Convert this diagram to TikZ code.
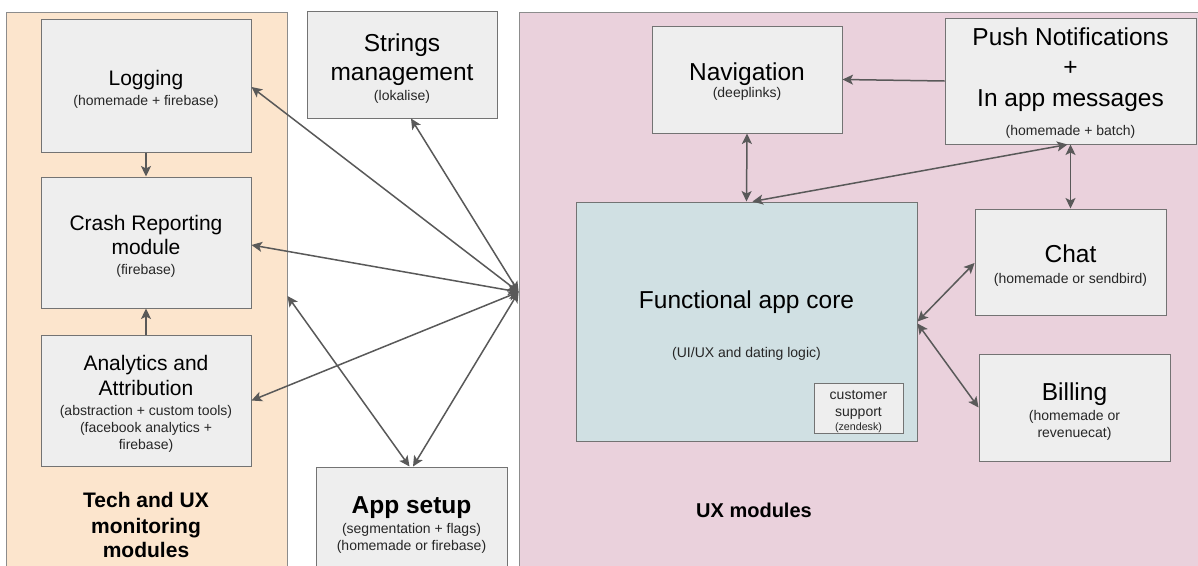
\documentclass[tikz,border=0pt]{standalone}
\usepackage{fontspec}
\setmainfont{Liberation Sans}
\usetikzlibrary{arrows.meta}
\definecolor{orangeFill}{HTML}{FCE5CD}
\definecolor{pinkFill}{HTML}{EAD1DC}
\definecolor{boxFill}{HTML}{EEEEEE}
\definecolor{coreFill}{HTML}{D0E0E3}
\definecolor{boxLine}{HTML}{737373}
\definecolor{panelLine}{HTML}{8C8C8C}
\definecolor{arrowC}{HTML}{595959}
\definecolor{subC}{HTML}{262626}
\begin{document}
\begin{tikzpicture}[x=1pt,y=-1pt,
  panel/.style={draw=panelLine, line width=0.9pt, inner sep=0pt, anchor=north west},
  box/.style={draw=boxLine, line width=1pt, fill=boxFill, inner sep=0pt},
  mainA/.style={font=\fontsize{21}{25}\selectfont, inner sep=0pt, anchor=base},
  mainB/.style={font=\fontsize{24.5}{29}\selectfont, inner sep=0pt, anchor=base},
  subT/.style={font=\fontsize{14}{17}\selectfont, text=subC, inner sep=0pt, anchor=base},
  tinyT/.style={font=\fontsize{10.7}{13}\selectfont, text=subC, inner sep=0pt, anchor=base},
  boldA/.style={font=\fontsize{21}{25}\selectfont\bfseries, inner sep=0pt, anchor=base},
  boldB/.style={font=\fontsize{24.5}{29}\selectfont\bfseries, inner sep=0pt, anchor=base},
  tip/.tip={Stealth[length=10.5pt,width=10pt,inset=2.5pt]},
  both/.style={draw=arrowC, line width=1.5pt, tip-tip},
  one/.style={draw=arrowC, line width=1.5pt, -tip}]

\fill[white] (0,0) rectangle (1198,565);
\useasboundingbox (0,0) rectangle (1198,565);

% panels
\node[panel, fill=orangeFill, minimum width=281pt, minimum height=575pt] (orP) at (5.5,11.5) {};
\node[panel, fill=pinkFill, minimum width=690pt, minimum height=575pt] (pkP) at (518.5,11.5) {};
\coordinate (hub) at (518.6,292);
\coordinate (orHub) at (287.5,296);

% boxes
\node[box, minimum width=210pt, minimum height=133pt] (logB) at (146,85.5) {};
\node[box, minimum width=210pt, minimum height=131pt] (crashB) at (146,242.5) {};
\node[box, minimum width=210pt, minimum height=131pt] (anaB) at (146,400.5) {};
\node[box, minimum width=190pt, minimum height=107pt] (strB) at (402,64.5) {};
\node[box, minimum width=191pt, minimum height=110pt] (appB) at (411.5,522) {};
\node[box, minimum width=190pt, minimum height=107pt] (navB) at (747,79.5) {};
\node[box, minimum width=251pt, minimum height=126pt] (pushB) at (1070.5,81) {};
\node[box, fill=coreFill, minimum width=341pt, minimum height=239pt] (coreB) at (746.5,321.5) {};
\node[box, minimum width=89pt, minimum height=50pt] (csB) at (858.5,408) {};
\node[box, minimum width=191pt, minimum height=106pt] (chatB) at (1070.5,262) {};
\node[box, minimum width=191pt, minimum height=107pt] (billB) at (1074.5,407.5) {};

% texts left column
\node[mainA] (tLog) at (146,85.5) {Logging};
\node[subT] (tLogS) at (146,105) {(homemade + firebase)};
\node[mainA] (tCr1) at (146,230.5) {Crash Reporting};
\node[mainA] (tCr2) at (146,254.5) {module};
\node[subT] (tCrS) at (146,274) {(firebase)};
\node[mainA] (tAn1) at (146,370.5) {Analytics and};
\node[mainA] (tAn2) at (146,395.5) {Attribution};
\node[subT] (tAnS1) at (146,415) {(abstraction + custom tools)};
\node[subT] (tAnS2) at (146,432) {(facebook analytics +};
\node[subT] (tAnS3) at (146,449) {firebase)};
\node[boldA] (tTe1) at (146,507.5) {Tech and UX};
\node[boldA] (tTe2) at (146,533.5) {monitoring};
\node[boldA] (tTe3) at (146,557.5) {modules};

% middle column
\node[mainB] (tSt1) at (402,51.8) {Strings};
\node[mainB] (tSt2) at (402,80.8) {management};
\node[subT] (tStS) at (402,100) {(lokalise)};
\node[boldB] (tApp) at (411.5,513.8) {App setup};
\node[subT] (tAppS1) at (411.5,533) {(segmentation + flags)};
\node[subT] (tAppS2) at (411.5,550) {(homemade or firebase)};

% right panel
\node[mainB] (tNav) at (747,80.8) {Navigation};
\node[subT] (tNavS) at (747,97) {(deeplinks)};
\node[mainB] (tPu1) at (1070.5,45.8) {Push Notifications};
\node[mainB] (tPu2) at (1070.5,75.8) {+};
\node[mainB] (tPu3) at (1070.5,106.8) {In app messages};
\node[subT] (tPuS) at (1070.5,135) {(homemade + batch)};
\node[mainB] (tCore) at (746.5,308.8) {Functional app core};
\node[subT] (tCoreS) at (746.5,357) {(UI/UX and dating logic)};
\node[subT] (tCs1) at (858.5,399) {customer};
\node[subT] (tCs2) at (858.5,416) {support};
\node[tinyT] (tCs3) at (858.5,430) {(zendesk)};
\node[mainB] (tChat) at (1070.5,262.8) {Chat};
\node[subT] (tChatS) at (1070.5,283) {(homemade or sendbird)};
\node[mainB] (tBill) at (1074.5,400.8) {Billing};
\node[subT] (tBillS1) at (1074.5,420) {(homemade or};
\node[subT] (tBillS2) at (1074.5,437) {revenuecat)};
\node[font=\fontsize{20}{24}\selectfont\bfseries, inner sep=0pt, anchor=base] (tUx) at (754,517.5) {UX modules};

% connectors
\draw[one] (logB.south) -- (crashB.north);
\draw[one] (anaB.north) -- (crashB.south);
\draw[both] (hub) -- ([yshift=-1.5pt]logB.east);
\draw[both] (hub) -- ([xshift=9pt]strB.south);
\draw[both] (hub) -- ([yshift=-2.5pt]crashB.east);
\draw[both] (hub) -- (anaB.east);
\draw[both] (hub) -- ([xshift=1.5pt]appB.north);
\draw[both] (orHub) -- ([xshift=-2pt]appB.north);
\draw[one] (pushB.west) -- (navB.east);
\draw[both] (navB.south) -- (coreB.north);
\draw[both] ([xshift=6pt]coreB.north) -- ([xshift=-3pt]pushB.south);
\draw[both] (pushB.south) -- (chatB.north);
\draw[both] (coreB.east) -- ([yshift=-1pt]chatB.west);
\draw[both] ([yshift=-2pt]coreB.east) -- (billB.west);
\end{tikzpicture}
\end{document}
